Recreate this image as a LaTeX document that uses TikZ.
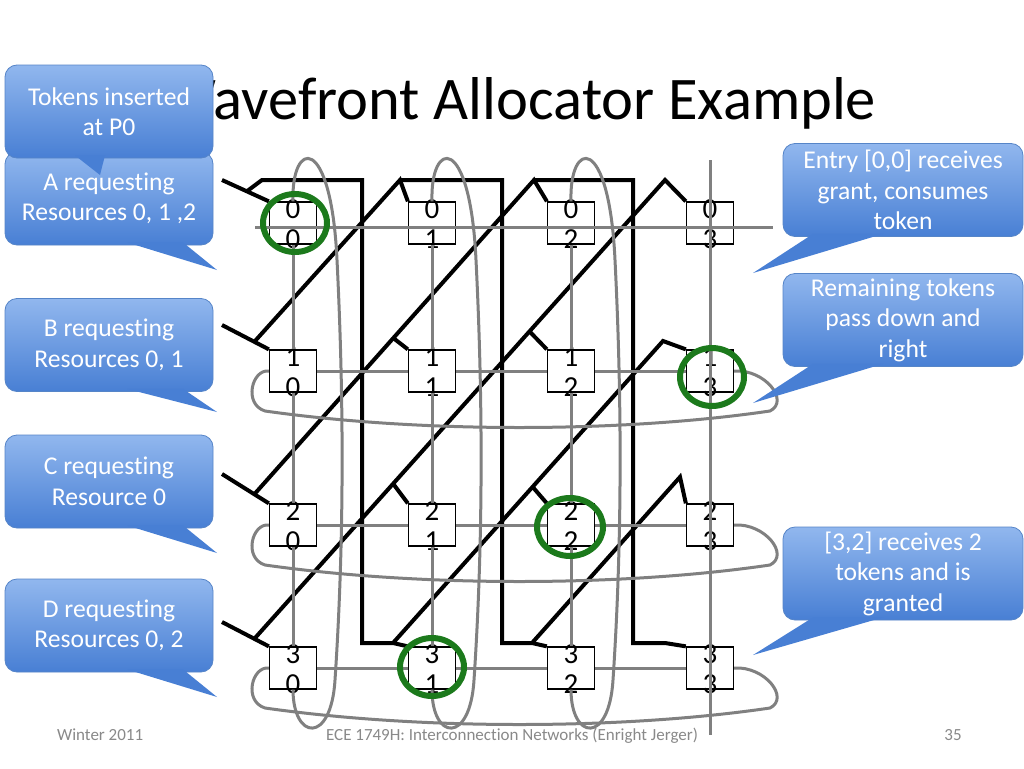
\documentclass[tikz,border=0pt]{standalone}
\usepackage{fontspec}
\setmainfont{Carlito}[Ligatures={NoCommon}]
\usepackage{tikz}
\usetikzlibrary{calc}
\definecolor{wireGray}{RGB}{128,128,128}
\definecolor{grantGreen}{RGB}{28,122,28}
\definecolor{bubbleTop}{RGB}{145,183,238}
\definecolor{bubbleBottom}{RGB}{72,127,212}
\definecolor{bubbleEdge}{RGB}{86,133,200}
\definecolor{footGray}{RGB}{137,137,137}
\tikzset{
  cell/.style={draw, line width=1.3pt, minimum width=47pt, minimum height=42pt, inner sep=0pt},
  digit/.style={anchor=base, inner sep=0pt, font=\fontsize{29}{29}\selectfont},
  token/.style={draw=black, line width=4pt},
  wire/.style={draw=wireGray, line width=3pt},
  grant/.style={draw=grantGreen, line width=6pt},
  bubble/.style={draw=bubbleEdge, line width=0.8pt, rounded corners=12pt, top color=bubbleTop,
    bottom color=bubbleBottom, text=white, align=center, minimum height=93pt, inner sep=3pt,
    font=\fontsize{25.6}{30.5}\selectfont},
  tail/.style={fill=bubbleBottom},
  foot/.style={text=footGray, inner sep=0pt, font=\fontsize{17}{17}\selectfont}
}

\begin{document}
\begin{tikzpicture}[x=1pt, y=-1pt]
  \fill[white] (0,0) rectangle (1024,768);
  \useasboundingbox (0,0) rectangle (1024,768);

  \node[anchor=base west, inner sep=0pt, font=\fontsize{60.5}{60.5}\selectfont] (title) at (162,119) {Wavefront Allocator Example};

  \node[foot, anchor=base west] (season) at (57,740) {Winter 2011};
  \node[foot, anchor=base] (course) at (512,740) {ECE 1749H: Interconnection Networks (Enright Jerger)};
  \node[foot, anchor=base] (page) at (953,740) {35};

  % the 4x4 array of cells
  \foreach \i/\y in {0/223, 1/371, 2/525, 3/668} {
    \foreach \j/\x in {0/293, 1/432, 2/571, 3/710} {
      \node[cell] (c\i\j) at (\x,\y) {};
      \node[digit] (row\i\j) at (\x,\y-5) {\i};
      \node[digit] (col\i\j) at (\x,\y+25) {\j};
    }
  }

  % token lines
  \coordinate (in0) at (222,180);
  \coordinate (in1) at (222,325);
  \coordinate (in2) at (222,474);
  \coordinate (in3) at (222,622);
  \foreach \i in {0,...,3}
    \draw[token] (in\i) -- (c\i0.north west);
  \coordinate (j0) at ($(in0)!0.53!(c00.north west)$);
  \coordinate (j1) at ($(in1)!0.69!(c10.north west)$);
  \coordinate (j2) at ($(in2)!0.69!(c20.north west)$);
  \coordinate (j3) at ($(in3)!0.69!(c30.north west)$);
  \coordinate (p01) at (400,180);
  \coordinate (p02) at (534,180);
  \coordinate (p03) at (665,180);
  \coordinate (p13) at (663,341);
  \coordinate (p23) at (680,477);
  \coordinate (w1) at (393,643);
  \coordinate (w2) at (532,643);
  \coordinate (w3) at (665,643);

  \draw[token] (j0) -- (262,180) -- (362,180) |- (w1) -- (c31.north west);
  \draw[token] (w1) -- (p13) -- (c13.north west);
  \draw[token] ($(w1)!0.517!(p13)$) -- (c22.north west);

  \draw[token] (j1) -- (p01) -- (c01.north west);
  \draw[token] (p01) -- (502,180) |- (w2) -- (c32.north west);
  \draw[token] (w2) -- (p23) -- (c23.north west);

  \draw[token] (j2) -- (p02) -- (c02.north west);
  \draw[token] ($(j2)!0.497!(p02)$) -- (c11.north west);
  \draw[token] (p02) -- (633,180) |- (w3) -- (c33.north west);

  \draw[token] (j3) -- (p03) -- (c03.north west);
  \draw[token] ($(j3)!0.338!(p03)$) -- (c21.north west);
  \draw[token] ($(j3)!0.67!(p03)$) -- (c12.north west);

  % grey links
  \foreach \i in {1,2,3}
    \foreach \a/\b in {0/1, 1/2, 2/3}
      \draw[wire] (c\i\a.east) -- (c\i\b.west);
  \foreach \j in {0,1,2}
    \foreach \a/\b in {0/1, 1/2, 2/3}
      \draw[wire] (c\a\j.south) -- (c\b\j.north);

  \foreach \j/\x in {0/293, 1/432, 2/571}
    \draw[wire] (c0\j.north) .. controls (\x-2,140) and (\x+38,132) .. (\x+44,260)
      .. controls (\x+52,420) and (\x+50,560) .. (\x+42,680)
      .. controls (\x+38,745) and (\x,740) .. (c3\j.south);

  \foreach \i/\y in {1/371, 2/525, 3/668}
    \draw[wire] (c\i0.west) .. controls (252,\y-2) and (243,\y+33) .. (265,\y+40)
      .. controls (420,\y+62) and (620,\y+62) .. (770,\y+40)
      .. controls (790,\y+30) and (765,\y-2) .. (c\i3.east);

  \coordinate (r0w) at (255,227);
  \coordinate (r0e) at (773,227);
  \coordinate (k3n) at (710,160);
  \coordinate (k3s) at (710,735);
  \draw[wire] (r0w) -- (r0e);
  \draw[wire] (k3n) -- (k3s);

  % granted entries
  \draw[grant] (295,223) ellipse [x radius=32pt, y radius=29pt];
  \draw[grant] (712,377) ellipse [x radius=32pt, y radius=29pt];
  \draw[grant] (570,527) ellipse [x radius=33pt, y radius=29pt];
  \draw[grant] (432,667) ellipse [x radius=32pt, y radius=29pt];

  % callouts
  \coordinate (tipTok) at (100,175);
  \coordinate (tipA) at (217,270);
  \coordinate (tipB) at (217,412);
  \coordinate (tipC) at (217,553);
  \coordinate (tipD) at (217,697);
  \coordinate (tipE) at (753,273);
  \coordinate (tipR) at (753,403);
  \coordinate (tipG) at (753,655);

  \node[bubble, minimum width=208pt] (reqA) at (109,198.5) {A requesting\\Resources 0, 1 ,2};
  \fill[tail] ($(reqA.south)+(18,-3)$) -- (tipA) -- ($(reqA.south)+(74,-3)$) -- cycle;
  \node[bubble, minimum width=208pt] (tokens) at (109,111.5) {Tokens inserted\\at P0};
  \fill[tail] ($(tokens.south)+(-34,-3)$) -- (tipTok) -- ($(tokens.south)+(-4,-3)$) -- cycle;
  \node[bubble, minimum width=208pt] (reqB) at (109,345) {B requesting\\Resources 0, 1};
  \fill[tail] ($(reqB.south)+(18,-3)$) -- (tipB) -- ($(reqB.south)+(74,-3)$) -- cycle;
  \node[bubble, minimum width=208pt] (reqC) at (109,481.5) {C requesting\\Resource 0};
  \fill[tail] ($(reqC.south)+(18,-3)$) -- (tipC) -- ($(reqC.south)+(74,-3)$) -- cycle;
  \node[bubble, minimum width=208pt] (reqD) at (109,625.5) {D requesting\\Resources 0, 2};
  \fill[tail] ($(reqD.south)+(18,-3)$) -- (tipD) -- ($(reqD.south)+(74,-3)$) -- cycle;

  \node[bubble, minimum width=240pt] (entry) at (903,190) {Entry [0,0] receives\\grant, consumes\\token};
  \fill[tail] ($(entry.south)+(-90,-3)$) -- (tipE) -- ($(entry.south)+(-20,-3)$) -- cycle;
  \node[bubble, minimum width=240pt] (remain) at (903,320) {Remaining tokens\\pass down and\\right};
  \fill[tail] ($(remain.south)+(-90,-3)$) -- (tipR) -- ($(remain.south)+(-20,-3)$) -- cycle;
  \node[bubble, minimum width=240pt] (twotok) at (903,573.5) {[3,2] receives 2\\tokens and is\\granted};
  \fill[tail] ($(twotok.south)+(-90,-3)$) -- (tipG) -- ($(twotok.south)+(-20,-3)$) -- cycle;
\end{tikzpicture}
\end{document}
